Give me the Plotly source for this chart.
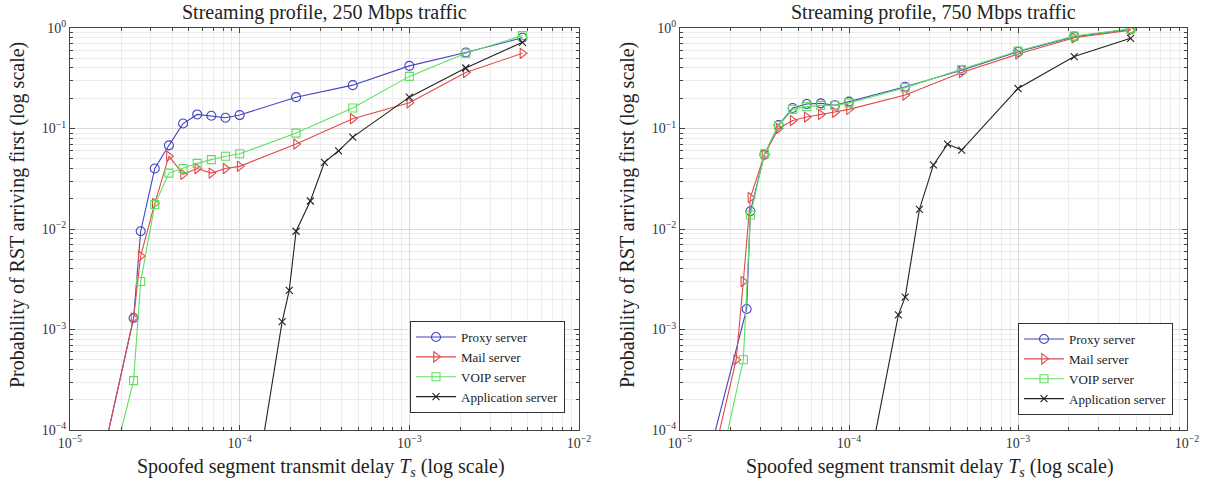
import plotly.graph_objects as go

# ---------------- data: left panel, 250 Mbps ----------------
proxy_250_x = [1.5e-5, 2.37e-5, 2.61e-5, 3.16e-5, 3.83e-5, 4.64e-5, 5.62e-5, 6.81e-5, 8.25e-5, 1e-4, 2.15e-4, 4.64e-4, 1e-3, 2.15e-3, 4.64e-3]
proxy_250_y = [4e-5, 1.3e-3, 9.5e-3, 0.040, 0.068, 0.112, 0.138, 0.134, 0.128, 0.136, 0.205, 0.27, 0.42, 0.57, 0.80]

mail_250_x = [1.5e-5, 2.37e-5, 2.61e-5, 3.16e-5, 3.83e-5, 4.64e-5, 5.62e-5, 6.81e-5, 8.25e-5, 1e-4, 2.15e-4, 4.64e-4, 1e-3, 2.15e-3, 4.64e-3]
mail_250_y = [4e-5, 1.3e-3, 5.4e-3, 0.018, 0.053, 0.035, 0.040, 0.036, 0.040, 0.042, 0.070, 0.125, 0.18, 0.36, 0.56]

voip_250_x = [1.9e-5, 2.37e-5, 2.61e-5, 3.16e-5, 3.83e-5, 4.64e-5, 5.62e-5, 6.81e-5, 8.25e-5, 1e-4, 2.15e-4, 4.64e-4, 1e-3, 2.15e-3, 4.64e-3]
voip_250_y = [7e-5, 3.1e-4, 3.0e-3, 0.0175, 0.036, 0.040, 0.045, 0.049, 0.053, 0.056, 0.090, 0.160, 0.33, 0.56, 0.84]

app_250_x = [1.25e-4, 1.78e-4, 1.96e-4, 2.15e-4, 2.61e-4, 3.16e-4, 3.83e-4, 4.64e-4, 1e-3, 2.15e-3, 4.64e-3]
app_250_y = [3e-5, 1.2e-3, 2.45e-3, 9.5e-3, 0.019, 0.046, 0.060, 0.082, 0.205, 0.40, 0.72]

# ---------------- data: right panel, 750 Mbps ----------------
proxy_750_x = [1.5e-5, 2.48e-5, 2.61e-5, 3.16e-5, 3.83e-5, 4.64e-5, 5.62e-5, 6.81e-5, 8.25e-5, 1e-4, 2.15e-4, 4.64e-4, 1e-3, 2.15e-3, 4.64e-3]
proxy_750_y = [6e-5, 1.6e-3, 0.015, 0.055, 0.108, 0.160, 0.175, 0.178, 0.170, 0.185, 0.26, 0.38, 0.58, 0.82, 0.97]

mail_750_x = [1.6e-5, 2.15e-5, 2.37e-5, 2.61e-5, 3.16e-5, 3.83e-5, 4.64e-5, 5.62e-5, 6.81e-5, 8.25e-5, 1e-4, 2.15e-4, 4.64e-4, 1e-3, 2.15e-3, 4.64e-3]
mail_750_y = [6e-5, 5e-4, 3e-3, 0.0205, 0.055, 0.100, 0.120, 0.130, 0.138, 0.145, 0.155, 0.215, 0.36, 0.55, 0.80, 0.95]

voip_750_x = [1.8e-5, 2.37e-5, 2.61e-5, 3.16e-5, 3.83e-5, 4.64e-5, 5.62e-5, 6.81e-5, 8.25e-5, 1e-4, 2.15e-4, 4.64e-4, 1e-3, 2.15e-3, 4.64e-3]
voip_750_y = [6e-5, 5e-4, 0.0138, 0.056, 0.107, 0.155, 0.165, 0.170, 0.170, 0.180, 0.255, 0.385, 0.59, 0.83, 0.98]

app_750_x = [1.3e-4, 1.96e-4, 2.15e-4, 2.61e-4, 3.16e-4, 3.83e-4, 4.64e-4, 1e-3, 2.15e-3, 4.64e-3]
app_750_y = [4e-5, 1.4e-3, 2.1e-3, 0.0157, 0.0434, 0.070, 0.061, 0.25, 0.52, 0.79]

series_names = ["Proxy server", "Mail server", "VOIP server", "Application server"]
titles = ["Streaming profile, 250 Mbps traffic", "Streaming profile, 750 Mbps traffic"]
x_title = "Spoofed segment transmit delay <i>T<sub>s</sub></i> (log scale)"
y_title = "Probability of RST arriving first (log scale)"

x_tick_vals = [1e-5, 1e-4, 1e-3, 1e-2]
x_tick_text = ["10<sup>−5</sup>", "10<sup>−4</sup>", "10<sup>−3</sup>", "10<sup>−2</sup>"]
y_tick_vals = [1e-4, 1e-3, 1e-2, 1e-1, 1]
y_tick_text = ["10<sup>−4</sup>", "10<sup>−3</sup>", "10<sup>−2</sup>", "10<sup>−1</sup>", "10<sup>0</sup>"]

# ---------------- styling ----------------
FONT = "Liberation Serif"
colors = ["#4343c4", "#e04a4a", "#5ee05e", "#222222"]
symbols = ["circle-open", "triangle-right-open", "square-open", "x-thin-open"]
msizes = [9, 9, 8, 7]

W, H = 1210, 481
px_dom = [(70, 579), (680, 1187)]
py_top, py_bot = 28, 430

fig = go.Figure()

panels = [
    [(proxy_250_x, proxy_250_y), (mail_250_x, mail_250_y), (voip_250_x, voip_250_y), (app_250_x, app_250_y)],
    [(proxy_750_x, proxy_750_y), (mail_750_x, mail_750_y), (voip_750_x, voip_750_y), (app_750_x, app_750_y)],
]

for p, panel in enumerate(panels):
    xa = "x" if p == 0 else "x2"
    ya = "y" if p == 0 else "y2"
    lg = "legend" if p == 0 else "legend2"
    for i, (xs, ys) in enumerate(panel):
        fig.add_trace(go.Scatter(
            x=xs, y=ys, mode="lines+markers", name=series_names[i],
            xaxis=xa, yaxis=ya, legend=lg, cliponaxis=True,
            line=dict(color=colors[i], width=1.1),
            marker=dict(symbol=symbols[i], size=msizes[i], color=colors[i],
                        line=dict(width=1.1, color=colors[i])),
        ))

minor_x = [k * 10.0 ** e for e in range(-5, -2) for k in range(2, 10)]
minor_y = [k * 10.0 ** e for e in range(-4, 0) for k in range(2, 10)]

def xaxis(p):
    d0, d1 = px_dom[p]
    return dict(
        type="log", range=[-5, -2], domain=[d0 / W, d1 / W],
        anchor="y" if p == 0 else "y2",
        tickmode="array", tickvals=x_tick_vals, ticktext=x_tick_text,
        ticks="inside", ticklen=5, tickcolor="#444",
        showline=True, linecolor="#444", linewidth=1, mirror="ticks",
        showgrid=True, gridcolor="#d9d9d9", gridwidth=1,
        minor=dict(tickmode="array", tickvals=minor_x, ticks="inside", ticklen=3,
                   tickcolor="#444", showgrid=True, gridcolor="#ececec", gridwidth=1),
        tickfont=dict(family=FONT, size=14, color="#333"),
        zeroline=False, automargin=False,
    )

def yaxis(p):
    return dict(
        type="log", range=[-4, 0], domain=[(H - py_bot) / H, (H - py_top) / H],
        anchor="x" if p == 0 else "x2",
        tickmode="array", tickvals=y_tick_vals, ticktext=y_tick_text,
        ticks="inside", ticklen=5, tickcolor="#444",
        showline=True, linecolor="#444", linewidth=1, mirror="ticks",
        showgrid=True, gridcolor="#d9d9d9", gridwidth=1,
        minor=dict(tickmode="array", tickvals=minor_y, ticks="inside", ticklen=3,
                   tickcolor="#444", showgrid=True, gridcolor="#ececec", gridwidth=1),
        tickfont=dict(family=FONT, size=14, color="#333"),
        zeroline=False, automargin=False,
    )

legend_common = dict(
    bgcolor="white", bordercolor="#333", borderwidth=1,
    font=dict(family=FONT, size=13, color="#222"),
    xanchor="right", yanchor="bottom", tracegroupgap=0, itemwidth=40,
)

annotations = []
for p in range(2):
    d0, d1 = px_dom[p]
    annotations.append(dict(
        text=titles[p], x=(d0 + d1) / 2 / W, y=(H - 12) / H, xref="paper", yref="paper",
        xanchor="center", yanchor="middle", showarrow=False,
        font=dict(family=FONT, size=20, color="#222"),
    ))
    annotations.append(dict(
        text=x_title, x=(d0 + d1) / 2 / W - 4 / W, y=(H - 467) / H, xref="paper", yref="paper",
        xanchor="center", yanchor="middle", showarrow=False,
        font=dict(family=FONT, size=20, color="#222"),
    ))
    annotations.append(dict(
        text=y_title, x=(d0 - 52) / W, y=(H - 215) / H, xref="paper", yref="paper",
        xanchor="center", yanchor="middle", showarrow=False, textangle=-90,
        font=dict(family=FONT, size=20, color="#222"),
    ))

fig.update_layout(
    width=W, height=H, margin=dict(l=0, r=0, t=0, b=0),
    paper_bgcolor="white", plot_bgcolor="white",
    xaxis=xaxis(0), yaxis=yaxis(0), xaxis2=xaxis(1), yaxis2=yaxis(1),
    legend=dict(x=565 / W, y=(H - 413) / H, **legend_common),
    legend2=dict(x=1173 / W, y=(H - 415) / H, **legend_common),
    annotations=annotations,
    showlegend=True,
)

fig.write_html("out.html")
